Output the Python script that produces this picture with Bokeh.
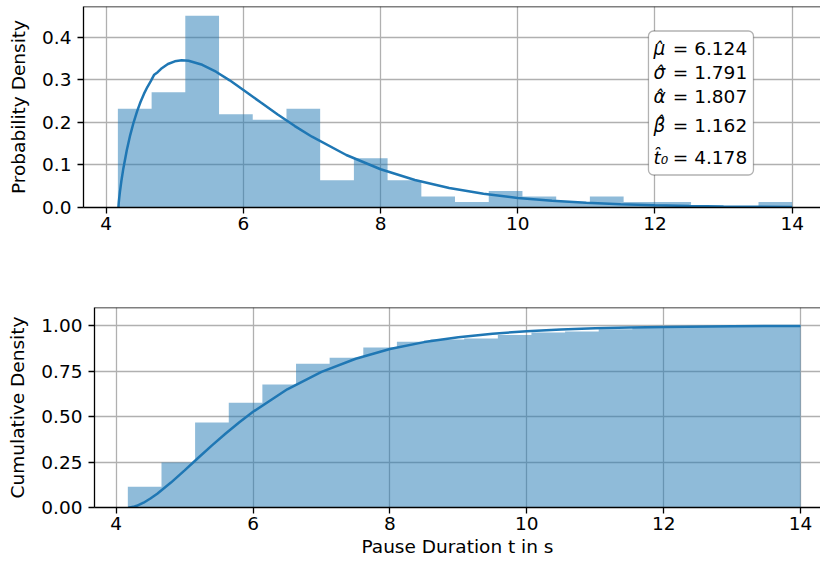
from bokeh.plotting import figure
from bokeh.layouts import column
from bokeh.models import FixedTicker, Span, BoxAnnotation, Label, Range1d
from bokeh.embed import file_html
from bokeh.resources import INLINE

# ---------------- data ----------------
bin_edges = [4.170, 4.662, 5.153, 5.645, 6.136, 6.628, 7.119, 7.611, 8.102, 8.594, 9.085,
             9.577, 10.068, 10.560, 11.051, 11.543, 12.034, 12.526, 13.017, 13.509, 14.000]
density = [0.232, 0.271, 0.451, 0.219, 0.206, 0.232, 0.064, 0.116, 0.064, 0.026,
           0.013, 0.039, 0.026, 0.013, 0.026, 0.013, 0.013, 0.0, 0.0, 0.013]
cumulative = [0.114, 0.247, 0.468, 0.576, 0.677, 0.791, 0.823, 0.880, 0.911, 0.924,
              0.930, 0.949, 0.962, 0.968, 0.981, 0.987, 0.994, 0.994, 0.994, 1.000]

pdf_t = [4.178, 4.181, 4.185, 4.19, 4.2, 4.22, 4.25, 4.3, 4.35, 4.4, 4.45, 4.5, 4.55, 4.6,
         4.65, 4.7, 4.75, 4.8, 4.9, 5.0, 5.1, 5.2, 5.4, 5.6, 5.8, 6.0, 6.25, 6.5, 6.75,
         7.0, 7.5, 8.0, 8.5, 9.0, 9.5, 10.0, 10.5, 11.0, 11.5, 12.0, 12.5, 13.0, 13.5, 14.0]
pdf_val = [0.0, 0.0075, 0.0148, 0.0228, 0.0368, 0.0610, 0.0919, 0.1347, 0.1702, 0.2003,
           0.2260, 0.2481, 0.2670, 0.2832, 0.2969, 0.3122, 0.3181, 0.3260, 0.3374, 0.3437,
           0.3460, 0.3450, 0.3355, 0.3192, 0.2989, 0.2764, 0.2472, 0.2186, 0.1914, 0.1664,
           0.1234, 0.0899, 0.0646, 0.0458, 0.0323, 0.0226, 0.0157, 0.0109, 0.0075, 0.0051,
           0.0035, 0.0024, 0.0016, 0.0011]

cdf_t = [4.178, 4.2, 4.25, 4.3, 4.4, 4.5, 4.6, 4.8, 5.0, 5.2, 5.4, 5.6, 5.8, 6.0, 6.5, 7.0,
         7.5, 8.0, 8.5, 9.0, 9.5, 10.0, 10.5, 11.0, 11.5, 12.0, 13.0, 14.0]
cdf_val = [0.0, 0.0005, 0.0037, 0.0094, 0.0264, 0.0492, 0.0756, 0.1370, 0.2043, 0.2734,
           0.3416, 0.4072, 0.4691, 0.5266, 0.6502, 0.7462, 0.8182, 0.8714, 0.9097, 0.9368,
           0.9561, 0.9697, 0.9791, 0.9857, 0.9902, 0.9934, 0.9969, 0.9986]

x_ticks = [4, 6, 8, 10, 12, 14]
x_tick_labels = ["4", "6", "8", "10", "12", "14"]
pdf_ticks = [0.0, 0.1, 0.2, 0.3, 0.4]
pdf_tick_labels = ["0.0", "0.1", "0.2", "0.3", "0.4"]
cdf_ticks = [0.0, 0.25, 0.5, 0.75, 1.0]
cdf_tick_labels = ["0.00", "0.25", "0.50", "0.75", "1.00"]

stat_symbols = ["\u03bc\u0302", "\u03c3\u0302", "\u03b1\u0302", "\u03b2\u0302", "t\u0302\u2080"]
stat_values = ["6.124", "1.791", "1.807", "1.162", "4.178"]

# ---------------- styling ----------------
FONT = "DejaVu Sans"
FS = "18.5px"
BLUE = "#1f77b4"
GRID = "#b0b0b0"
LW = 1.3


def style(p, yticks, ylabels, ylabel, xlabel):
    p.frame_align = False
    p.outline_line_color = None
    p.background_fill_color = "white"
    p.border_fill_color = "white"
    p.xaxis.ticker = FixedTicker(ticks=x_ticks)
    p.xaxis.major_label_overrides = dict(zip(x_ticks, x_tick_labels))
    p.yaxis.ticker = FixedTicker(ticks=yticks)
    p.yaxis.major_label_overrides = dict(zip(yticks, ylabels))
    for ax in (p.xaxis[0], p.yaxis[0]):
        ax.axis_line_color = "black"
        ax.axis_line_width = LW
        ax.major_tick_line_color = "black"
        ax.major_tick_line_width = LW
        ax.major_tick_out = 6
        ax.major_tick_in = 0
        ax.minor_tick_out = 0
        ax.minor_tick_in = 0
        ax.major_label_text_font = FONT
        ax.major_label_text_font_size = FS
        ax.major_label_text_color = "black"
        ax.axis_label_text_font = FONT
        ax.axis_label_text_font_size = FS
        ax.axis_label_text_font_style = "normal"
        ax.axis_label_text_color = "black"
    p.xaxis.major_label_standoff = 3
    p.xaxis.axis_label_standoff = 3
    p.yaxis.major_label_standoff = 6
    p.yaxis.axis_label_standoff = 10
    p.yaxis.axis_label = ylabel
    if xlabel:
        p.xaxis.axis_label = xlabel
    p.grid.grid_line_color = GRID
    p.grid.grid_line_width = LW
    p.add_layout(Span(location=p.y_range.end, dimension="width",
                      line_color="black", line_width=LW))


def hist_area(p, heights):
    p.varea_step(x=bin_edges, y1=0, y2=heights + [heights[-1]], step_mode="after",
                 fill_color=BLUE, fill_alpha=0.5)


# ---------------- top: probability density ----------------
p1 = figure(width=820, height=255, output_backend="svg", toolbar_location=None,
            x_range=Range1d(3.669, 14.413), y_range=Range1d(0, 0.4725),
            min_border_left=83, min_border_right=0, min_border_top=6, min_border_bottom=48)
hist_area(p1, density)
p1.line(pdf_t, pdf_val, line_color=BLUE, line_width=2.5)
style(p1, pdf_ticks, pdf_tick_labels, "Probability Density", None)

p1.add_layout(BoxAnnotation(left=11.905, right=13.436, bottom=0.0764, top=0.4149,
                            fill_color="white", fill_alpha=1.0,
                            line_color="black", line_width=LW, border_radius=5))
row_y = [0.3726, 0.3162, 0.2621, 0.1916, 0.1187]
for sym, val, yy in zip(stat_symbols, stat_values, row_y):
    p1.add_layout(Label(x=11.978, y=yy, text=sym, text_font=FONT, text_font_size=FS,
                        text_font_style="italic", text_baseline="middle",
                        text_align="left", text_color="black"))
    p1.add_layout(Label(x=12.26, y=yy, text="= " + val, text_font=FONT, text_font_size=FS,
                        text_baseline="middle", text_align="left", text_color="black"))

# ---------------- bottom: cumulative density ----------------
p2 = figure(width=820, height=312, output_backend="svg", toolbar_location=None,
            x_range=Range1d(3.683, 14.292), y_range=Range1d(0, 1.1),
            min_border_left=94, min_border_right=0, min_border_top=52, min_border_bottom=60)
hist_area(p2, cumulative)
p2.line(cdf_t, cdf_val, line_color=BLUE, line_width=2.5)
style(p2, cdf_ticks, cdf_tick_labels, "Cumulative Density", "Pause Duration t in s")

layout = column(p1, p2, spacing=0)
open("out.html", "w").write(file_html(layout, INLINE))
